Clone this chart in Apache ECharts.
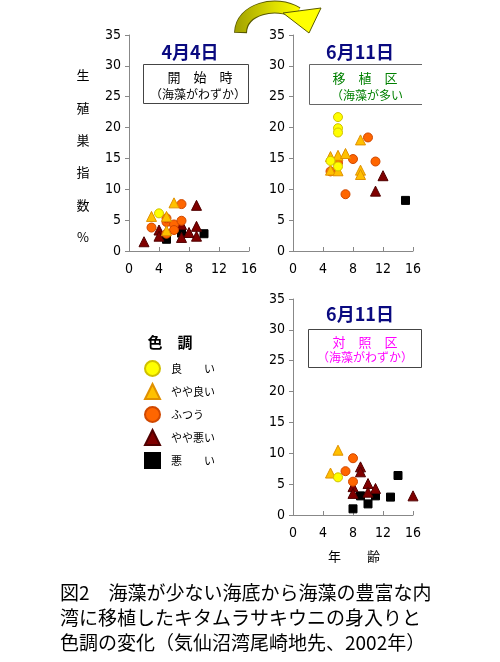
<!DOCTYPE html>
<html>
<head>
<meta charset="utf-8">
<script src="https://cdn.jsdelivr.net/npm/echarts@6/dist/echarts.min.js"></script>
<style>
html, body { margin: 0; padding: 0; background: #fff; }
#main { width: 500px; height: 662px; }
</style>
</head>
<body>
<div id="main"></div>
<script>
// 色調 categories (legend order)
var colorNames = ['良　　い', 'やや良い', 'ふつう', 'やや悪い', '悪　　い'];
var xTicks = [0, 16, 4];   // 年齢: min, max, interval
var yTicks = [0, 35, 5];   // 生殖巣指数 %: min, max, interval

// [年齢, 生殖巣指数] -- 4月4日 開始時
var startGood = [[4, 6.1]];
var startFairGood = [[3, 5.6], [5, 5.6], [6, 7.8], [5, 3.3]];
var startNormal = [[7, 7.6], [5, 4.7], [6, 4.3], [7, 4.9], [3, 3.8], [6, 3.4], [5, 2.8], [5, 5.3]];
var startFairBad = [[2, 1.5], [4, 3.4], [4, 2.4], [9, 7.4], [9, 4.0], [9, 2.4], [8, 3.0], [7, 2.2], [7, 4.3]];
var startBad = [[5, 1.9], [7, 2.9], [10, 2.8]];

// 6月11日 移植区
var moveGood = [[6, 21.7], [6, 19.9], [6, 19.2], [5, 14.6], [6, 13.7]];
var moveFairGood = [[9, 18.0], [5, 15.3], [6, 15.5], [7, 15.8], [5, 13.1], [6, 13.0], [9, 13.1], [9, 12.4]];
var moveNormal = [[10, 18.4], [8, 14.9], [11, 14.5], [5, 12.9], [7, 9.2], [6, 14.3]];
var moveFairBad = [[11, 9.7], [12, 12.2]];
var moveBad = [[15, 8.2]];

// 6月11日 対照区
var ctrlGood = [[6, 6.1]];
var ctrlFairGood = [[6, 10.5], [5, 6.8]];
var ctrlNormal = [[8, 9.2], [7, 7.1], [8, 5.4]];
var ctrlFairBad = [[9, 7.8], [9, 7.0], [8, 4.6], [8, 3.5], [10, 5.1], [10, 3.7], [11, 4.3], [16, 3.1]];
var ctrlBad = [[8, 1.0], [9, 3.1], [10, 1.8], [11, 3.1], [13, 2.9], [14, 6.4]];

var panels = [
  [startGood, startFairGood, startNormal, startFairBad, startBad],
  [moveGood, moveFairGood, moveNormal, moveFairBad, moveBad],
  [ctrlGood, ctrlFairGood, ctrlNormal, ctrlFairBad, ctrlBad]
];

var symbols = ['circle', 'triangle', 'circle', 'triangle', 'rect'];
var sizes = [9, 10, 9, 10, 8];
var fills = ['#ffff00', '#ffc000', '#ff6600', '#800000', '#000000'];
var strokes = ['#d0c000', '#e09000', '#d04800', '#500000', '#000000'];

var numFont = '"DejaVu Sans Condensed", "Liberation Sans Narrow", "Liberation Sans", sans-serif';
var jpFont = '"Noto Sans CJK JP", sans-serif';

var grids = [
  { left: 129, top: 35, width: 120, height: 216 },
  { left: 293, top: 35, width: 120, height: 216 },
  { left: 293, top: 299, width: 120, height: 216 }
];

var xAxes = [], yAxes = [], series = [];
for (var g = 0; g < 3; g++) {
  xAxes.push({
    gridIndex: g, type: 'value', min: xTicks[0], max: xTicks[1], interval: xTicks[2],
    axisLine: { show: true, onZero: false, lineStyle: { color: '#888', width: 1 } },
    axisTick: { show: true, inside: true, length: 4, lineStyle: { color: '#888' } },
    splitLine: { show: false },
    axisLabel: { color: '#000', fontSize: 14, fontFamily: numFont, margin: 11 }
  });
  yAxes.push({
    gridIndex: g, type: 'value', min: yTicks[0], max: yTicks[1], interval: yTicks[2],
    axisLine: { show: true, onZero: false, lineStyle: { color: '#888', width: 1 } },
    axisTick: { show: true, length: 4, lineStyle: { color: '#888' } },
    splitLine: { show: false },
    axisLabel: { color: '#000', fontSize: 14, fontFamily: numFont, margin: 8 }
  });
  // worse colours first so better ones sit on top
  for (var k = 4; k >= 0; k--) {
    series.push({
      name: colorNames[k],
      type: 'scatter',
      xAxisIndex: g,
      yAxisIndex: g,
      data: panels[g][k],
      symbol: symbols[k],
      symbolSize: sizes[k],
      itemStyle: { color: fills[k], borderColor: strokes[k], borderWidth: 1, opacity: 1 },
      emphasis: { disabled: true }
    });
  }
}

function label(x, y, text, size, color, bold) {
  return {
    type: 'text', x: x, y: y, z: 10,
    style: {
      text: text, fill: color, fontSize: size, fontFamily: jpFont,
      fontWeight: bold ? 'bold' : 'normal', align: 'center', verticalAlign: 'middle'
    }
  };
}

var arrowFill = new echarts.graphic.LinearGradient(0, 0, 1, 0, [
  { offset: 0, color: '#a0a000' },
  { offset: 0.6, color: '#e0e000' },
  { offset: 1, color: '#ffff00' }
]);

var graphics = [
  // curved arrow: dark outline, band, head
  {
    type: 'bezierCurve', z: 4,
    shape: { x1: 240.5, y1: 33, cpx1: 241, cpy1: 9, cpx2: 276, cpy2: 0, x2: 297, y2: 13 },
    style: { stroke: '#5a5a00', lineWidth: 13, fill: null }
  },
  {
    type: 'bezierCurve', z: 5,
    shape: { x1: 240.5, y1: 32, cpx1: 241, cpy1: 9, cpx2: 276, cpy2: 0, x2: 297, y2: 13 },
    style: { stroke: arrowFill, lineWidth: 11, fill: null }
  },
  {
    type: 'polygon', z: 6,
    shape: { points: [[283, 13], [321, 8], [309, 33]] },
    style: { fill: '#ffff00', stroke: '#5a5a00', lineWidth: 1 }
  },
  // panel titles
  label(190, 52, '4月4日', 18, '#0a0a80', true),
  label(360, 52, '6月11日', 18, '#0a0a80', true),
  label(360, 314, '6月11日', 18, '#0a0a80', true),
  // boxes
  { type: 'rect', shape: { x: 143.5, y: 64.5, width: 105, height: 39 }, style: { fill: '#fff', stroke: '#444', lineWidth: 1 } },
  label(200, 77, '開　始　時', 13, '#000'),
  label(198, 94, '（海藻がわずか）', 12, '#000'),
  { type: 'polyline', shape: { points: [[422, 64.5], [309.5, 64.5], [309.5, 104.5], [422, 104.5]] }, style: { fill: null, stroke: '#666', lineWidth: 1 } },
  label(365, 78, '移　植　区', 13, '#008000'),
  { type: 'text', x: 331, y: 95, z: 10, style: { text: '（海藻が多い', fill: '#008000', fontSize: 12, fontFamily: jpFont, align: 'left', verticalAlign: 'middle' } },
  { type: 'rect', shape: { x: 308.5, y: 329.5, width: 113, height: 38 }, style: { fill: '#fff', stroke: '#444', lineWidth: 1 } },
  label(365, 342, '対　照　区', 13, '#ff00ff'),
  label(365, 357, '（海藻がわずか）', 12, '#ff00ff'),
  // axis names
  {
    type: 'text', x: 83, y: 59, z: 10,
    style: { text: '生\n殖\n巣\n指\n数\n%', fill: '#000', fontSize: 13, fontFamily: jpFont, lineHeight: 32.4, align: 'center', verticalAlign: 'top' }
  },
  label(354, 556, '年　　齢', 13, '#000'),
  // legend title
  label(170, 342, '色　調', 15, '#000', true),
  // caption
  {
    type: 'text', x: 60, y: 580, z: 10,
    style: {
      text: '図2　海藻が少ない海底から海藻の豊富な内\n湾に移植したキタムラサキウニの身入りと\n色調の変化（気仙沼湾尾崎地先、2002年）',
      fill: '#000', fontSize: 19, lineHeight: 25, fontFamily: jpFont, align: 'left', verticalAlign: 'top'
    }
  }
];

var chart = echarts.init(document.getElementById('main'));
var option = {
  animation: false,
  backgroundColor: '#fff',
  grid: grids,
  xAxis: xAxes,
  yAxis: yAxes,
  legend: {
    data: colorNames,
    orient: 'vertical',
    left: 139,
    top: 355,
    itemWidth: 15,
    itemHeight: 15,
    itemGap: 6,
    selectedMode: false,
    textStyle: { fontSize: 11, color: '#000', fontFamily: jpFont, padding: [0, 0, 0, 6] }
  },
  graphic: graphics,
  series: series
};
chart.setOption(option);
</script>
</body>
</html>
